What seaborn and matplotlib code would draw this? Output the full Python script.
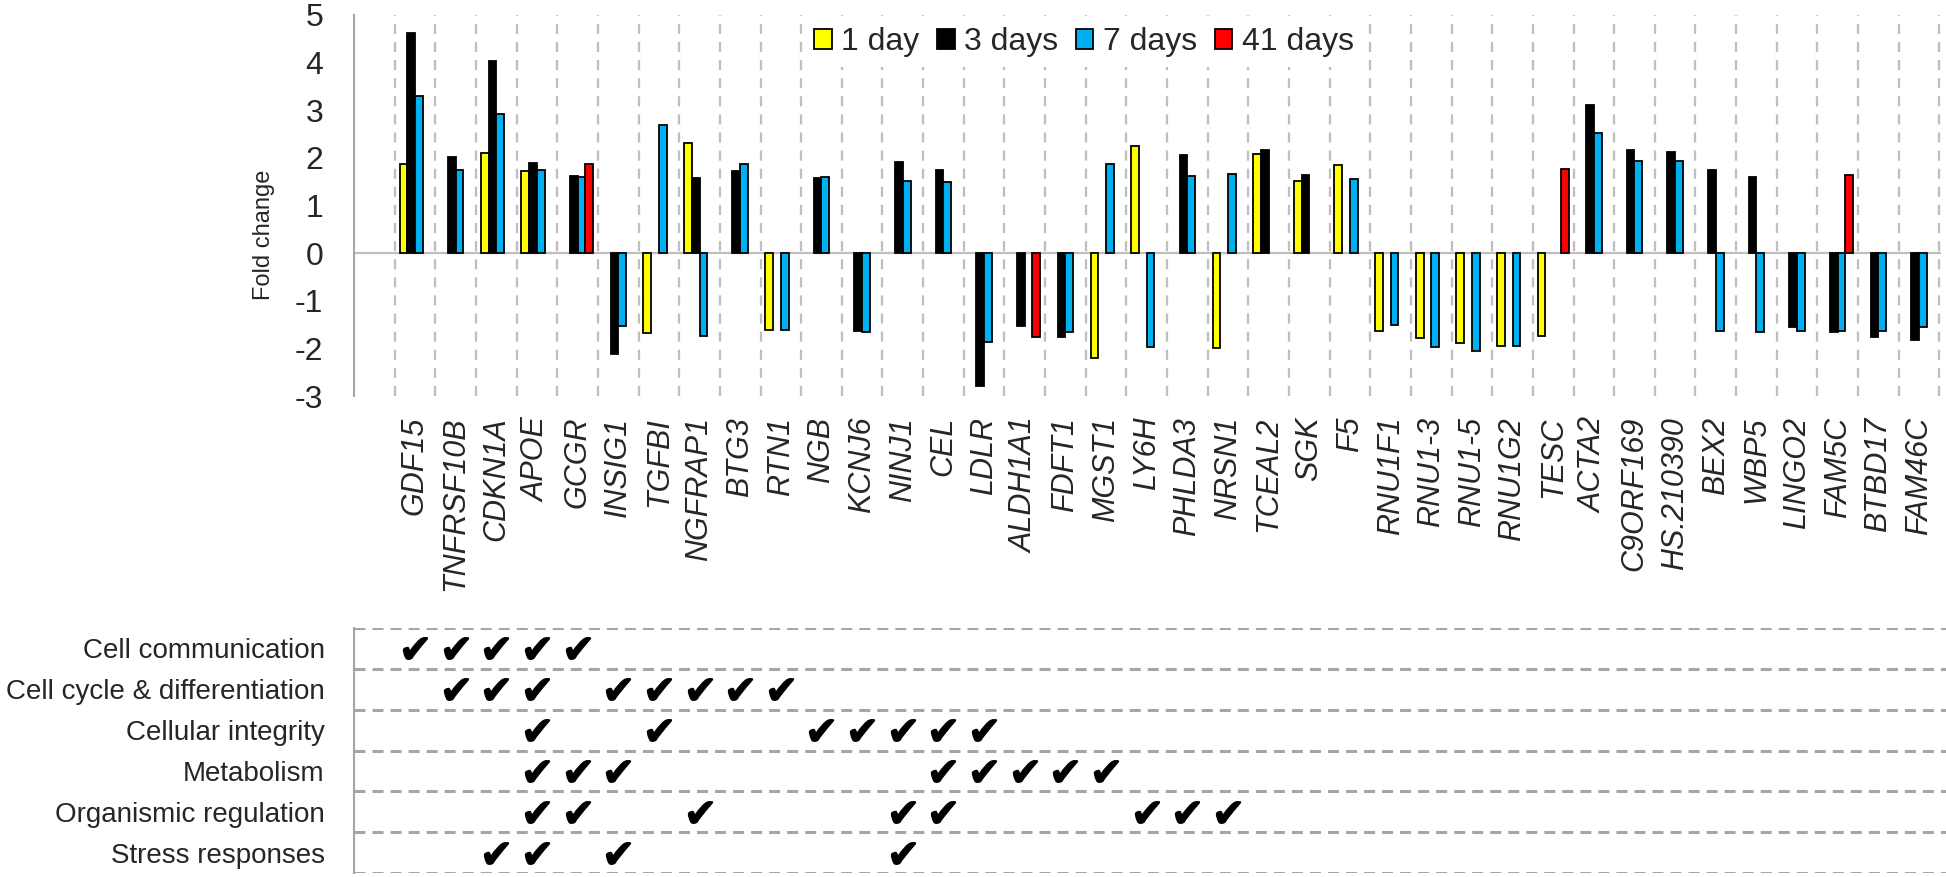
import numpy as np
import pandas as pd
import matplotlib
matplotlib.use("Agg")
import matplotlib.pyplot as plt
from matplotlib.patches import Patch
from matplotlib.ticker import FixedLocator, NullFormatter
import seaborn as sns

nan = np.nan

genes = ["GDF15", "TNFRSF10B", "CDKN1A", "APOE", "GCGR", "INSIG1", "TGFBI",
         "NGFRAP1", "BTG3", "RTN1", "NGB", "KCNJ6", "NINJ1", "CEL", "LDLR",
         "ALDH1A1", "FDFT1", "MGST1", "LY6H", "PHLDA3", "NRSN1", "TCEAL2",
         "SGK", "F5", "RNU1F1", "RNU1-3", "RNU1-5", "RNU1G2", "TESC", "ACTA2",
         "C9ORF169", "HS.210390", "BEX2", "WBP5", "LINGO2", "FAM5C", "BTBD17",
         "FAM46C"]

series_names = ["1 day", "3 days", "7 days", "41 days"]
series_colors = ["#FFFF00", "#000000", "#00B0F0", "#FF0000"]

day1 = [1.87, nan, 2.10, 1.72, nan, nan, -1.68, 2.31, nan, -1.61, nan, nan,
        nan, nan, nan, nan, nan, -2.20, 2.24, nan, -2.00, 2.08, 1.52, 1.85,
        -1.63, -1.78, -1.89, -1.96, -1.75, nan, nan, nan, nan, nan, nan, nan,
        nan, nan]
day3 = [4.62, 2.01, 4.03, 1.90, 1.62, -2.11, nan, 1.57, 1.73, nan, 1.57,
        -1.64, 1.92, 1.74, -2.80, -1.52, -1.76, nan, nan, 2.05, nan, 2.17,
        1.63, nan, nan, nan, nan, nan, nan, 3.11, 2.17, 2.13, 1.74, 1.60,
        -1.56, -1.66, -1.77, -1.83]
day7 = [3.29, 1.75, 2.93, 1.75, 1.59, -1.54, 2.68, -1.73, 1.87, -1.61, 1.59,
        -1.66, 1.52, 1.50, -1.87, nan, -1.66, 1.87, -1.98, 1.61, 1.66, nan,
        nan, 1.55, -1.51, -1.98, -2.05, -1.96, nan, 2.53, 1.94, 1.94, -1.64,
        -1.66, -1.64, -1.64, -1.64, -1.56]
day41 = [nan, nan, nan, nan, 1.88, nan, nan, nan, nan, nan, nan, nan, nan,
         nan, nan, -1.77, nan, nan, nan, nan, nan, nan, nan, nan, nan, nan,
         nan, nan, 1.77, nan, nan, nan, nan, nan, nan, 1.63, nan, nan]

y_ticks = [-3, -2, -1, 0, 1, 2, 3, 4, 5]
y_label = "Fold change"

categories = ["Cell communication", "Cell cycle & differentiation",
              "Cellular integrity", "Metabolism", "Organismic regulation",
              "Stress responses"]
cell_communication = ["GDF15", "TNFRSF10B", "CDKN1A", "APOE", "GCGR"]
cell_cycle = ["TNFRSF10B", "CDKN1A", "APOE", "INSIG1", "TGFBI", "NGFRAP1",
              "BTG3", "RTN1"]
cellular_integrity = ["APOE", "TGFBI", "NGB", "KCNJ6", "NINJ1", "CEL", "LDLR"]
metabolism = ["APOE", "GCGR", "INSIG1", "CEL", "LDLR", "ALDH1A1", "FDFT1",
              "MGST1"]
organismic_regulation = ["APOE", "GCGR", "NGFRAP1", "NINJ1", "CEL", "LY6H",
                         "PHLDA3", "NRSN1"]
stress_responses = ["CDKN1A", "APOE", "INSIG1", "NINJ1"]
category_genes = [cell_communication, cell_cycle, cellular_integrity,
                  metabolism, organismic_regulation, stress_responses]

# ---------------------------------------------------------------- style
sns.set_style("white")
plt.rcParams["font.family"] = ["Liberation Sans", "DejaVu Sans"]
plt.rcParams["axes.unicode_minus"] = False

GRID = "#BFBFBF"
AXIS = "#A6A6A6"

W, H = 1946, 877
fig = plt.figure(figsize=(W / 100, H / 100), dpi=100)

# ---------------------------------------------------------------- bars
df = pd.DataFrame({
    "gene": genes * 4,
    "series": np.repeat(series_names, len(genes)),
    "value": day1 + day3 + day7 + day41,
}).dropna()

ax = fig.add_axes([354 / W, 1 - 396 / H, (1941 - 354) / W, (396 - 15) / H])
sns.barplot(data=df, x="gene", y="value", hue="series", order=genes,
            hue_order=series_names, palette=series_colors, saturation=1,
            width=0.76, gap=0, dodge=True, errorbar=None,
            edgecolor="black", linewidth=1.3, ax=ax, legend=False, zorder=3)

ax.set_xlim(-1.5, 37.54)
ax.set_ylim(min(y_ticks), max(y_ticks))
ax.set_yticks(y_ticks)
ax.set_yticklabels([str(t) for t in y_ticks])
ax.set_xticks(range(len(genes)))
ax.set_xticklabels(genes, rotation=90, fontstyle="italic", fontsize=22)
ax.xaxis.set_minor_locator(FixedLocator(np.arange(-0.5, len(genes), 1.0)))
ax.grid(False)
ax.grid(which="minor", axis="x", color=GRID, linestyle=(0, (4.4, 3.5)),
        linewidth=1.65)
ax.set_axisbelow(True)
ax.axhline(0, color=GRID, linewidth=1.6, zorder=2)

for s in ["top", "right", "bottom"]:
    ax.spines[s].set_visible(False)
ax.spines["left"].set_color(AXIS)
ax.spines["left"].set_linewidth(1.5)
ax.tick_params(axis="x", which="both", length=0, pad=15)
ax.tick_params(axis="y", which="major", direction="out", length=8,
               width=1.5, color=AXIS, labelsize=23, pad=14)
ax.set_xlabel("")
ax.set_ylabel(y_label, fontsize=17)
ax.yaxis.set_label_coords(-0.050, 0.424)

handles = [Patch(facecolor=c, edgecolor="black", linewidth=1.3)
           for c in series_colors]
leg = ax.legend(handles, series_names, ncol=4, loc="center",
                bbox_to_anchor=(0.460, 0.929), fontsize=23,
                handlelength=0.55, handleheight=0.6, handletextpad=0.3,
                columnspacing=0.55, frameon=True, facecolor="white",
                edgecolor="none", framealpha=1, borderpad=0.3)
leg.set_zorder(5)

# ---------------------------------------------------------------- table
rows = []
for r, glist in enumerate(category_genes):
    for g in glist:
        rows.append({"pos": genes.index(g), "row": r + 0.5})
cdf = pd.DataFrame(rows)

tax = fig.add_axes([354 / W, 1 - 873 / H, (W - 354) / W, (873 - 628) / H])
sns.scatterplot(data=cdf, x="pos", y="row", marker="$\u2714$", s=300,
                color="black", edgecolor="black", linewidth=0.9, ax=tax,
                legend=False)
tax.set_xlim(-1.5, -1.5 + (W - 354) / 40.65)
tax.set_ylim(len(categories), 0)
tax.set_xticks([])
tax.set_xlabel("")
tax.set_ylabel("")
tax.set_yticks(range(len(categories) + 1))
tax.yaxis.set_major_formatter(NullFormatter())
tax.set_yticks(np.arange(len(categories)) + 0.5, minor=True)
tax.set_yticklabels(categories, minor=True, fontsize=20)
tax.tick_params(axis="y", which="major", direction="inout", length=13,
                width=1.5, color=AXIS)
tax.tick_params(axis="y", which="minor", length=0, pad=21)
tax.grid(False)
tax.grid(which="major", axis="y", color=AXIS, linestyle=(0, (3.6, 2.3)),
         linewidth=2.2)
for s in ["top", "right", "bottom"]:
    tax.spines[s].set_visible(False)
tax.spines["left"].set_color(AXIS)
tax.spines["left"].set_linewidth(1.5)

fig.savefig("out.png", dpi=100)
